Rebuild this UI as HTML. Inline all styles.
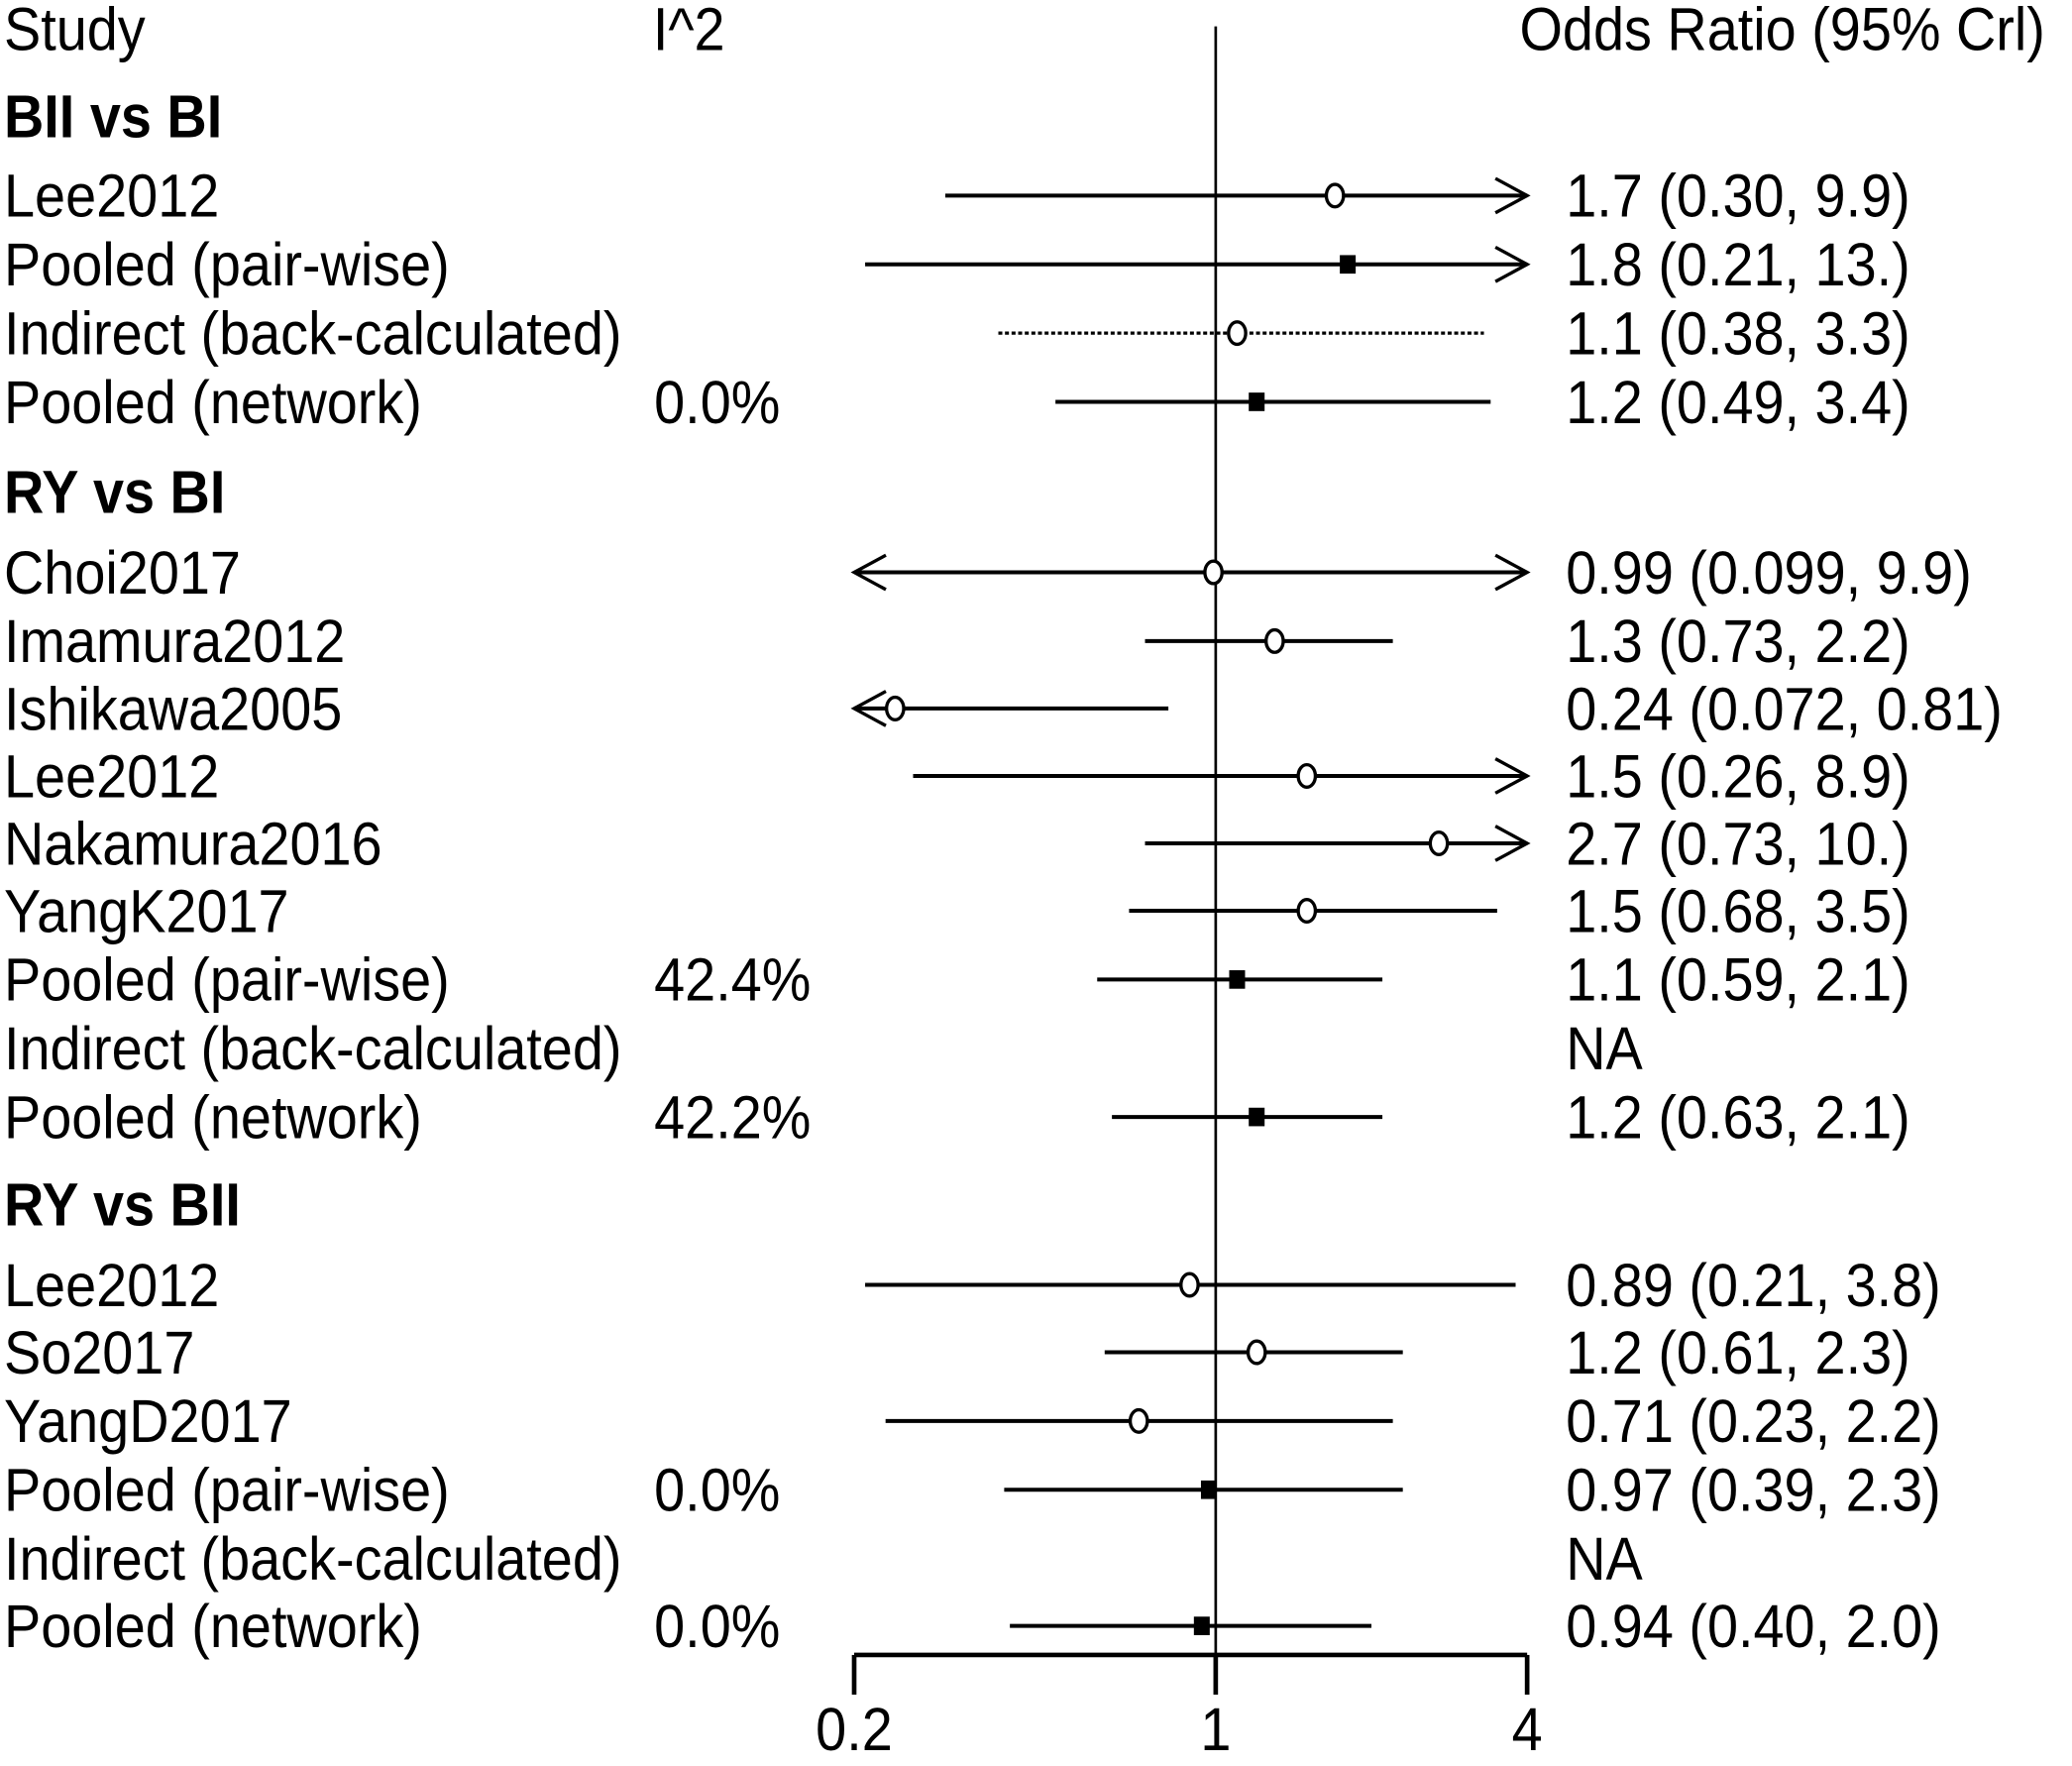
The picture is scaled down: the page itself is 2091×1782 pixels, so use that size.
<!DOCTYPE html>
<html><head><meta charset="utf-8"><style>
html,body{margin:0;padding:0;background:#fff}
svg{display:block}
text{font-family:"Liberation Sans",Arial,sans-serif;fill:#000}
</style></head><body>
<svg id="chart" width="2091" height="1782" viewBox="0 0 1568 1336" preserveAspectRatio="none" xmlns="http://www.w3.org/2000/svg">
<g id="texts"></g>
<g id="marks"></g>
</svg>
<script>
const labels = ["Lee2012","Pooled (pair-wise)","Indirect (back-calculated)","Pooled (network)",
"Choi2017","Imamura2012","Ishikawa2005","Lee2012","Nakamura2016","YangK2017","Pooled (pair-wise)","Indirect (back-calculated)","Pooled (network)",
"Lee2012","So2017","YangD2017","Pooled (pair-wise)","Indirect (back-calculated)","Pooled (network)"];
const kinds = ["study","pooled","indirect","pooled","study","study","study","study","study","study","pooled","indirect","pooled","study","study","study","pooled","indirect","pooled"];
const estimates = [1.7,1.8,1.1,1.2,0.99,1.3,0.24,1.5,2.7,1.5,1.1,null,1.2,0.89,1.2,0.71,0.97,null,0.94];
const lowers = [0.30,0.21,0.38,0.49,0.099,0.73,0.072,0.26,0.73,0.68,0.59,null,0.63,0.21,0.61,0.23,0.39,null,0.40];
const uppers = [9.9,13,3.3,3.4,9.9,2.2,0.81,8.9,10,3.5,2.1,null,2.1,3.8,2.3,2.2,2.3,null,2.0];
const valueLabels = ["1.7 (0.30, 9.9)","1.8 (0.21, 13.)","1.1 (0.38, 3.3)","1.2 (0.49, 3.4)","0.99 (0.099, 9.9)","1.3 (0.73, 2.2)","0.24 (0.072, 0.81)","1.5 (0.26, 8.9)","2.7 (0.73,  10.)","1.5 (0.68, 3.5)","1.1 (0.59, 2.1)","NA","1.2 (0.63, 2.1)","0.89 (0.21, 3.8)","1.2 (0.61, 2.3)","0.71 (0.23, 2.2)","0.97 (0.39, 2.3)","NA","0.94 (0.40, 2.0)"];
const i2Labels = ["","","","0.0%","","","","","","","42.4%","","42.2%","","","","0.0%","","0.0%"];
const rowY = [148,200,252,304,433,485,536,587,638,689,741,793,845,972,1023,1075,1127,1179,1230];
const groups = ["BII vs BI","RY vs BI","RY vs BII"];
const groupY = [88,372,911];
const ticks = [0.2,1,4];

const NS="http://www.w3.org/2000/svg";
const X0=920, K=170, MIN=0.2, MAX=4;
function xs(v){return X0+Math.log(v)*K;}
const T=document.getElementById('texts'), M=document.getElementById('marks');
function el(tag,attrs,parent){const e=document.createElementNS(NS,tag);for(const k in attrs)e.setAttribute(k,attrs[k]);parent.appendChild(e);return e;}
const SX=0.91;
function txt(s,x,y,bold,name){
  const t=el('text',{x:(x/SX).toFixed(1),y:y+16,'font-size':46,transform:`scale(${SX},1)`,'font-weight':bold?'bold':'normal'},T);
  t.textContent=s;
  
  
  return t;
}
txt("Study",3,22,false,'study-header');
txt("I^2",494,22,false,'i2-header');
txt("Odds Ratio (95% Crl)",1150,22,false,'odds-ratio-header');
groups.forEach((g,i)=>txt(g,3,groupY[i],true,'group-title'));
labels.forEach((l,i)=>{
  txt(l,3,rowY[i],false,'study-label');
  if(i2Labels[i]) txt(i2Labels[i],495,rowY[i],false,'i2-value');
  txt(valueLabels[i],1185,rowY[i],false,'or-value');
});
const vl=el('line',{x1:xs(1),x2:xs(1),y1:20,y2:1252,stroke:'#000','stroke-width':2},M);


const ax=el('line',{x1:xs(MIN),x2:xs(MAX),y1:1252,y2:1252,stroke:'#000','stroke-width':3.5},M);


ticks.forEach(t=>{
  const tk=el('line',{x1:xs(t),x2:xs(t),y1:1252,y2:1282,stroke:'#000','stroke-width':3.5},M);
  
  
  const lb=el('text',{x:(xs(t)/SX).toFixed(1),y:1324,'font-size':46,'text-anchor':'middle',transform:`scale(${SX},1)`},T);
  lb.textContent=String(t);
  
  
});
estimates.forEach((e,i)=>{
  if(e===null) return;
  const y=rowY[i], lo=lowers[i], hi=uppers[i];
  const x1=xs(Math.max(lo,MIN)), x2=xs(Math.min(hi,MAX));
  const ln=el('line',{x1:x1,x2:x2,y1:y,y2:y,stroke:'#000','stroke-width':kinds[i]==='indirect'?2.5:3},M);
  if(kinds[i]==='indirect') ln.setAttribute('stroke-dasharray','3,2');
  
  
  if(hi>MAX){
    const a=el('polyline',{points:`${x2-24},${y-13} ${x2},${y} ${x2-24},${y+13}`,fill:'none',stroke:'#000','stroke-width':2.5},M);
    
    
  }
  if(lo<MIN){
    const a=el('polyline',{points:`${x1+24},${y-13} ${x1},${y} ${x1+24},${y+13}`,fill:'none',stroke:'#000','stroke-width':2.5},M);
    
    
  }
  const cx=xs(e);
  if(kinds[i]==='pooled'){
    const r=el('rect',{x:cx-6,y:y-7,width:12,height:14,fill:'#000'},M);
    
    
  } else {
    const c=el('ellipse',{cx:cx,cy:y,rx:6.5,ry:8.5,fill:'#fff',stroke:'#000','stroke-width':2.5},M);
    
    
  }
});
</script>
</body></html>
